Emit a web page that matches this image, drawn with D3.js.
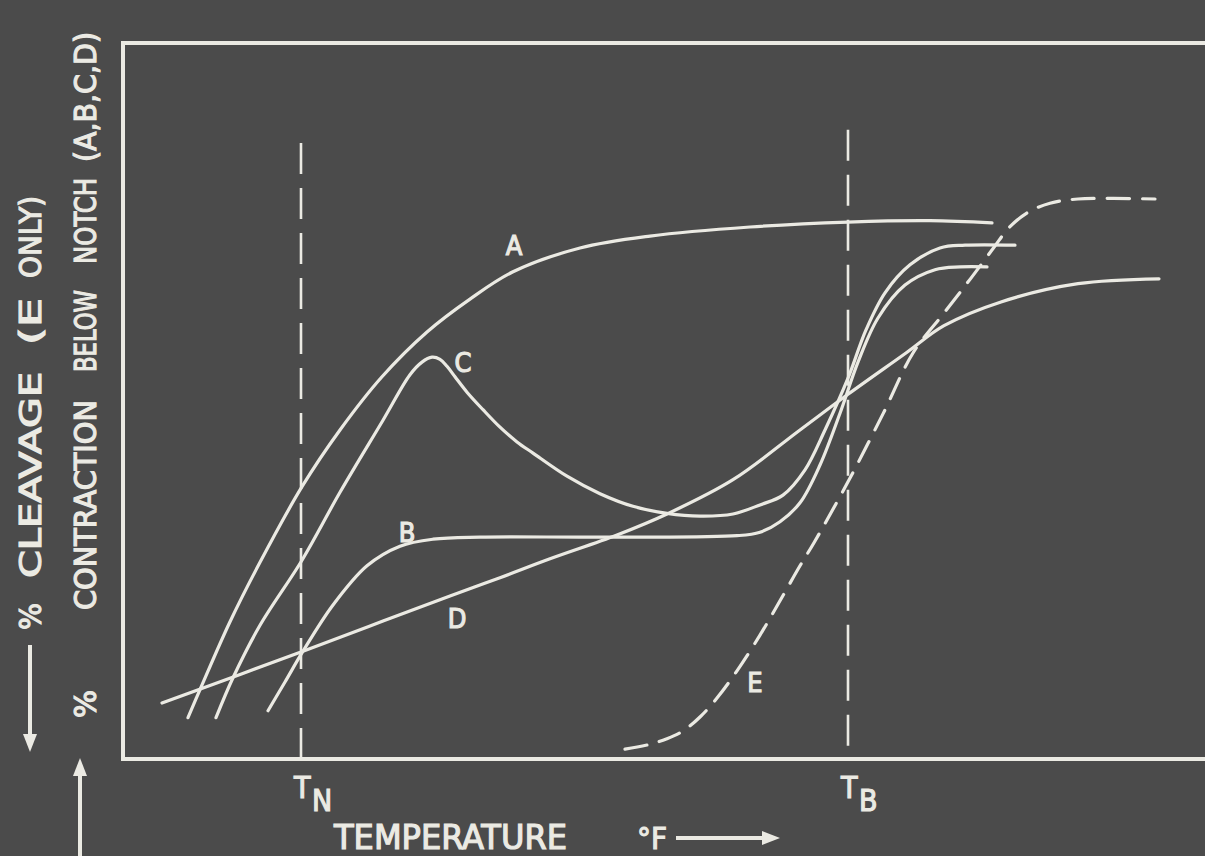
<!DOCTYPE html>
<html>
<head>
<meta charset="utf-8">
<script src="https://cdn.jsdelivr.net/npm/d3@7"></script>
<style>
  body { margin: 0; background: #4b4b4b; }
  svg text { font-family: "DejaVu Sans Condensed", "DejaVu Sans", sans-serif; fill: #ebeae3; stroke: #ebeae3; stroke-width: 1.1px; }
</style>
</head>
<body>
<div id="chart"></div>
<script>
const w = 1205;
const h = 856;

// temperature (arbitrary units) vs percent
const curveA = [[13, 5.9], [15.4, 9.9], [21.4, 19.6], [27.4, 28.1], [35.8, 38.9], [43.4, 47], [51.8, 54.6],
  [60.8, 61], [69.4, 65.7], [78, 69.6], [91.4, 73], [105.4, 74.7], [125.4, 76], [145, 76.7], [161.4, 76.9], [173.8, 76.6]];
const curveB = [[29, 6.9], [32.4, 11], [36, 15.4], [42, 22], [48.8, 27.6], [55.4, 30.4], [62, 31.4], [71.4, 31.7],
  [95.4, 31.7], [122.8, 31.9], [127.4, 32.4], [131.4, 33.9], [135.4, 36.6], [139.4, 42], [143.4, 49.4], [147, 56.7],
  [151, 63], [156.4, 67.7], [162.4, 69.9], [167.4, 70.3], [172.8, 70.3]];
const curveC = [[18.6, 5.9], [22, 11.6], [27.4, 19.1], [35.8, 28.4], [43.4, 38.1], [52, 48.4], [57.4, 54.9], [59.8, 56.7],
  [61.8, 57.4], [63.4, 57.1], [64.8, 56.1], [66.4, 54.6], [68.8, 52.4], [72, 49.9], [75.4, 47.4], [78.8, 45.3], [82, 43.7],
  [88.8, 40.4], [95.4, 37.9], [102, 36.1], [108.8, 35.1], [115.4, 34.7], [122, 35], [127.4, 36.3], [132, 37.7],
  [136.4, 41.3], [140.4, 47], [145, 54.4], [148.6, 61.3], [152.4, 66.6], [157.4, 70.6], [163.4, 73], [168.4, 73.4],
  [178.4, 73.4]];
const curveD = [[7.8, 8], [36, 15.4], [52, 19.7], [65.4, 23.3], [75.4, 25.9], [85.4, 28.6], [98.8, 32], [108.8, 35],
  [122, 39.9], [135.4, 47], [145, 52.1], [156.6, 58], [164.2, 61.9], [175.6, 65.3], [191, 67.9], [207.2, 68.6]];
const curveE = [[100.4, 1.4], [105.4, 2.1], [108.8, 2.9], [112, 4], [115.4, 6], [118.8, 8.7], [122.8, 12.6], [127.4, 17.7],
  [131.4, 22.6], [135.4, 27.6], [138.2, 30.9], [145, 39.6], [152, 49.3], [158, 58], [164.2, 63.7], [169.6, 68.7],
  [174.2, 73.1], [177.2, 75.9], [181, 78.1], [185.4, 79.4], [191, 80], [206.4, 80]];

const tN = 35.6;
const tB = 145;
const curveNames = ['A', 'B', 'C', 'D', 'E'];
const labelSpots = [[78.2, 73.4], [56.8, 32.4], [68, 56.7], [66.8, 20.1], [126.4, 11]];

const ink = '#ebeae3';

const svg = d3.select('#chart')
  .append('svg')
  .attr('width', w)
  .attr('height', h)
  .style('background-color', '#4b4b4b');

const x = d3.scaleLinear().domain([0, 100]).range([123, 623]);
const y = d3.scaleLinear().domain([0, 100]).range([759, 59]);

// frame (right side runs off the slide)
svg.append('path')
  .attr('d', `M${x(220)},${y(102.3)} H${x(0)} V${y(0)} H${x(220)}`)
  .attr('fill', 'none')
  .attr('stroke', ink)
  .attr('stroke-width', 4);

// T_N and T_B markers
svg.append('line')
  .attr('x1', x(tN)).attr('x2', x(tN))
  .attr('y1', y(88)).attr('y2', y(0))
  .attr('stroke', ink).attr('stroke-width', 2.6)
  .attr('stroke-dasharray', '31,14');
svg.append('line')
  .attr('x1', x(tB)).attr('x2', x(tB))
  .attr('y1', y(89.9)).attr('y2', y(0))
  .attr('stroke', ink).attr('stroke-width', 2.6)
  .attr('stroke-dasharray', '31,14');

const line = d3.line()
  .x(d => x(d[0]))
  .y(d => y(d[1]))
  .curve(d3.curveCatmullRom.alpha(0.5));

const curves = [curveA, curveB, curveC, curveD, curveE];
svg.selectAll('path.curve')
  .data(curves)
  .enter()
  .append('path')
  .attr('class', 'curve')
  .attr('d', line)
  .attr('fill', 'none')
  .attr('stroke', ink)
  .attr('stroke-width', 3.2)
  .attr('stroke-linecap', 'round')
  .attr('stroke-dasharray', (d, i) => i === 4 ? '22,13' : null);

svg.selectAll('text.cname')
  .data(curveNames)
  .enter()
  .append('text')
  .attr('class', 'cname')
  .attr('x', (d, i) => x(labelSpots[i][0]))
  .attr('y', (d, i) => y(labelSpots[i][1]))
  .attr('dy', '0.36em')
  .attr('text-anchor', 'middle')
  .style('font-size', '27px')
  .text(d => d);

// T_N / T_B under the axis
const tLabel = (xv, sub) => {
  svg.append('text')
    .attr('x', x(xv) - 7)
    .attr('y', 798)
    .style('font-size', '30px')
    .text('T');
  svg.append('text')
    .attr('x', x(xv) + 11)
    .attr('y', 811)
    .style('font-size', '30px')
    .text(sub);
};
tLabel(tN, 'N');
tLabel(tB, 'B');

// x title
svg.append('text')
  .attr('x', 334).attr('y', 849)
  .attr('textLength', 233).attr('lengthAdjust', 'spacingAndGlyphs')
  .style('font-size', '33px')
  .text('TEMPERATURE');
svg.append('text')
  .attr('x', 637).attr('y', 849)
  .style('font-size', '31px')
  .text('°F');

const arrow = (x1, y1, x2, y2) => {
  const a = Math.atan2(y2 - y1, x2 - x1);
  const len = 18, half = 7;
  const bx = x2 - len * Math.cos(a), by = y2 - len * Math.sin(a);
  svg.append('line')
    .attr('x1', x1).attr('y1', y1).attr('x2', bx).attr('y2', by)
    .attr('stroke', ink).attr('stroke-width', 4);
  svg.append('path')
    .attr('d', `M${x2},${y2} L${bx - half * Math.sin(a)},${by + half * Math.cos(a)} L${bx + half * Math.sin(a)},${by - half * Math.cos(a)} Z`)
    .attr('fill', ink);
};
arrow(676, 838, 780, 838);
arrow(30, 645, 30, 752);
arrow(80, 856, 80, 758);

// rotated y titles, word by word
const vword = (str, bx, yStart, yEnd) => {
  svg.append('text')
    .attr('transform', `translate(${bx},${yStart}) rotate(-90)`)
    .attr('textLength', yStart - yEnd).attr('lengthAdjust', 'spacingAndGlyphs')
    .style('font-size', '30px')
    .text(str);
};
vword('%', 41, 630, 603);
vword('CLEAVAGE', 41, 578, 372);
vword('(E', 41, 345, 298);
vword('ONLY)', 41, 278, 196);

vword('%', 96, 718, 690);
vword('CONTRACTION', 96, 610, 400);
vword('BELOW', 96, 372, 290);
vword('NOTCH', 96, 264, 178);
vword('(A,B,C,D)', 96, 162, 32);
</script>
</body>
</html>
